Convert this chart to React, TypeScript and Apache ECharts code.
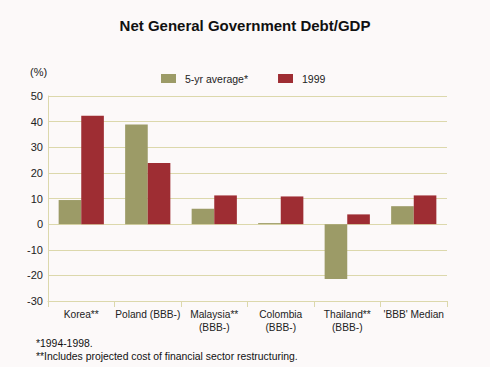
import React, { useEffect, useRef } from "react";
import * as echarts from "echarts";

const title = "Net General Government Debt/GDP";
const categories = [
  "Korea**",
  "Poland (BBB-)",
  "Malaysia**\n(BBB-)",
  "Colombia\n(BBB-)",
  "Thailand**\n(BBB-)",
  "'BBB' Median",
];
const seriesNames = ["5-yr average*", "1999"];
const avgValues = [9.4, 38.9, 6.0, 0.4, -21.4, 7.0];
const y1999Values = [42.3, 23.9, 11.2, 10.8, 3.8, 11.2];
const footnotes = ["*1994-1998.", "**Includes projected cost of financial sector restructuring."];
const unitLabel = "(%)";

const FONT = "'Liberation Sans', Arial, sans-serif";
const GRID_COLOR = "#dcd8ac";

export default function App() {
  const ref = useRef<HTMLDivElement>(null);
  useEffect(() => {
    if (!ref.current) return;
    const chart = echarts.init(ref.current, null, { renderer: "svg" });
    chart.setOption({
      animation: false,
      backgroundColor: "#fcf9f9",
      textStyle: { fontFamily: FONT },
      title: {
        text: title,
        left: "center",
        top: 13,
        textStyle: { fontFamily: FONT, fontSize: 15, fontWeight: "bold", color: "#111" },
      },
      legend: {
        data: seriesNames,
        left: 156,
        top: 68,
        itemWidth: 15,
        itemHeight: 9,
        itemGap: 30,
        icon: "rect",
        textStyle: { fontFamily: FONT, fontSize: 10.5, color: "#222", padding: [0, 0, 0, 4] },
      },
      grid: { left: 48, right: 43, top: 96, bottom: 66 },
      xAxis: {
        type: "category",
        data: categories,
        axisLine: { onZero: false, lineStyle: { color: GRID_COLOR } },
        axisTick: { show: true, length: 6, lineStyle: { color: GRID_COLOR } },
        axisLabel: {
          interval: 0,
          fontFamily: FONT,
          fontSize: 10.2,
          color: "#222",
          lineHeight: 13,
          margin: 7,
        },
        splitLine: { show: false },
      },
      yAxis: {
        type: "value",
        min: -30,
        max: 50,
        interval: 10,
        axisLine: { show: true, lineStyle: { color: GRID_COLOR } },
        axisTick: { show: false },
        axisLabel: { fontFamily: FONT, fontSize: 11, color: "#222", margin: 5 },
        splitLine: { show: true, lineStyle: { color: GRID_COLOR, width: 1 } },
      },
      series: [
        {
          name: seriesNames[0],
          type: "bar",
          data: avgValues,
          barGap: "0%",
          barCategoryGap: "32%",
          itemStyle: { color: "#9c9b67" },
        },
        {
          name: seriesNames[1],
          type: "bar",
          data: y1999Values,
          barGap: "0%",
          barCategoryGap: "32%",
          itemStyle: { color: "#9e2d33" },
        },
      ],
      graphic: [
        {
          type: "text",
          left: 30,
          top: 66,
          style: { text: unitLabel, font: `11px ${FONT}`, fill: "#222" },
        },
        {
          type: "text",
          left: 36,
          top: 338,
          style: { text: footnotes[0], font: `10.4px ${FONT}`, fill: "#111" },
        },
        {
          type: "text",
          left: 36,
          top: 351,
          style: { text: footnotes[1], font: `10.4px ${FONT}`, fill: "#111" },
        },
      ],
    });
    return () => chart.dispose();
  }, []);
  return (
    <div
      ref={ref}
      style={{ position: "fixed", left: 0, top: 0, width: 490, height: 367 }}
    />
  );
}
